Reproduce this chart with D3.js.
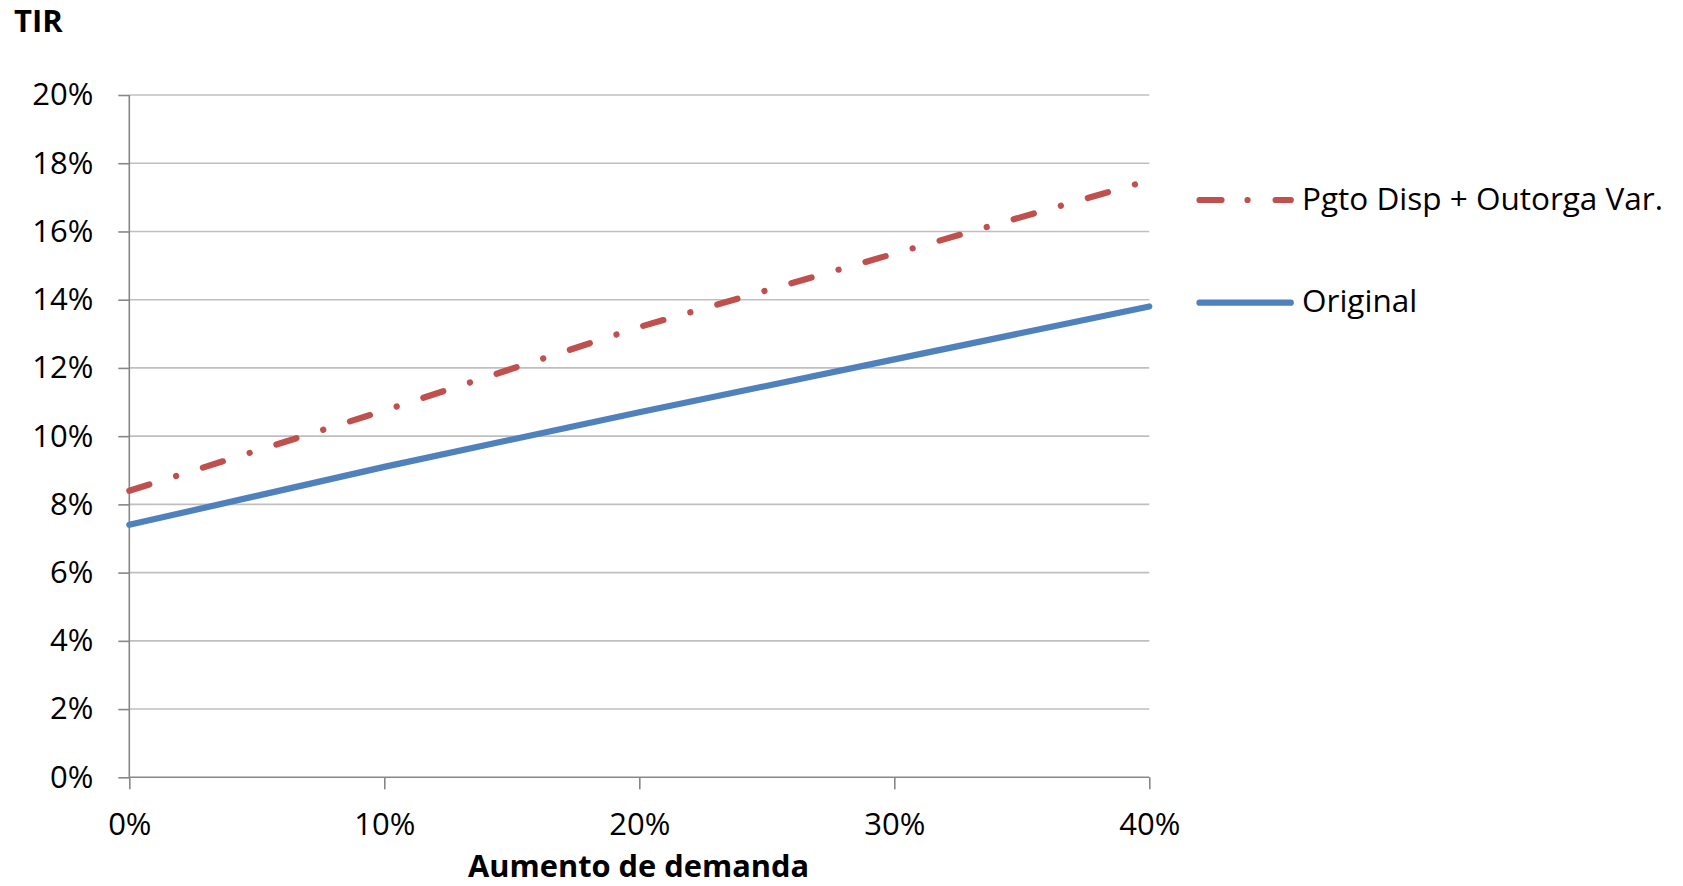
<!DOCTYPE html>
<html><head><meta charset="utf-8">
<script src="https://cdn.jsdelivr.net/npm/d3@7"></script>
<style>body{margin:0;background:#fff;} text{font-family:"Open Sans","Liberation Sans",sans-serif;fill:#000;}</style>
</head><body>
<svg id="c" width="1683" height="886"></svg>
<script>
const demandIncrease = [0, 0.10, 0.20, 0.30, 0.40];
const originalTIR = [0.074, 0.091, 0.107, 0.1225, 0.138];
const pgtoDispTIR = [0.084, 0.1075, 0.132, 0.1535, 0.175];
const yTicks = [0,0.02,0.04,0.06,0.08,0.10,0.12,0.14,0.16,0.18,0.20];
const xTicks = [0,0.10,0.20,0.30,0.40];
const seriesNames = ["Pgto Disp + Outorga Var.", "Original"];

const svg = d3.select("#c");
const x = d3.scaleLinear().domain([0,0.4]).range([129.3,1149.3]);
const y = d3.scaleLinear().domain([0,0.2]).range([777.3,95]);
const fmt = d3.format(".0%");
const FS = 31;
const FF = "'Open Sans','Liberation Sans',sans-serif";

// gridlines
svg.append("g").selectAll("line").data(yTicks.filter(d=>d>0)).join("line")
  .attr("x1",x(0)).attr("x2",x(0.4)).attr("y1",d=>y(d)).attr("y2",d=>y(d))
  .attr("stroke","#bfbfbf").attr("stroke-width",1.6);

// y axis
const ya = svg.append("g").attr("transform",`translate(${x(0)},0)`)
  .call(d3.axisLeft(y).tickValues(yTicks).tickFormat(fmt).tickSize(11).tickPadding(25));
ya.select(".domain").attr("stroke","#878787").attr("stroke-width",1.6).attr("d",`M0,${y(0.2)}V${y(0)}`);
ya.selectAll(".tick line").attr("stroke","#878787").attr("stroke-width",1.6);
ya.selectAll("text").attr("font-size",FS).attr("font-family",FF).attr("fill","#000");

// x axis
const xa = svg.append("g").attr("transform",`translate(0,${y(0)})`)
  .call(d3.axisBottom(x).tickValues(xTicks).tickFormat(fmt).tickSize(12).tickPadding(24));
xa.select(".domain").attr("stroke","#878787").attr("stroke-width",1.6).attr("d",`M${x(0)},0H${x(0.4)}`);
xa.selectAll(".tick line").attr("stroke","#878787").attr("stroke-width",1.6);
xa.selectAll("text").attr("font-size",FS).attr("font-family",FF).attr("fill","#000");

const line = d3.line().x((d,i)=>x(demandIncrease[i])).y(d=>y(d));

svg.append("path").datum(originalTIR).attr("d",line).attr("fill","none")
  .attr("stroke","#4f81bd").attr("stroke-width",6.2).attr("stroke-linecap","round");
svg.append("path").datum(pgtoDispTIR).attr("d",line).attr("fill","none")
  .attr("stroke","#c0504d").attr("stroke-width",6.2).attr("stroke-linecap","round")
  .attr("stroke-dasharray","21,28,0.1,28");

// legend
const lg = svg.append("g");
lg.append("line").attr("x1",1199.5).attr("x2",1290.8).attr("y1",200).attr("y2",200)
  .attr("stroke","#c0504d").attr("stroke-width",6.2).attr("stroke-linecap","round")
  .attr("stroke-dasharray","22,26,0.1,28,40");
lg.append("line").attr("x1",1199.5).attr("x2",1290.8).attr("y1",302.7).attr("y2",302.7)
  .attr("stroke","#4f81bd").attr("stroke-width",6.2).attr("stroke-linecap","round");
lg.append("text").attr("x",1302).attr("y",210).attr("font-size",31.5).text(seriesNames[0]);
lg.append("text").attr("x",1302).attr("y",312).attr("font-size",31.5).text(seriesNames[1]);

// titles
svg.append("text").attr("x",14).attr("y",32).attr("font-size",31).attr("font-weight","bold").text("TIR");
svg.append("text").attr("x",638.6).attr("y",877).attr("text-anchor","middle").attr("font-size",30.8).attr("font-weight","bold").text("Aumento de demanda");
</script>
</body></html>
